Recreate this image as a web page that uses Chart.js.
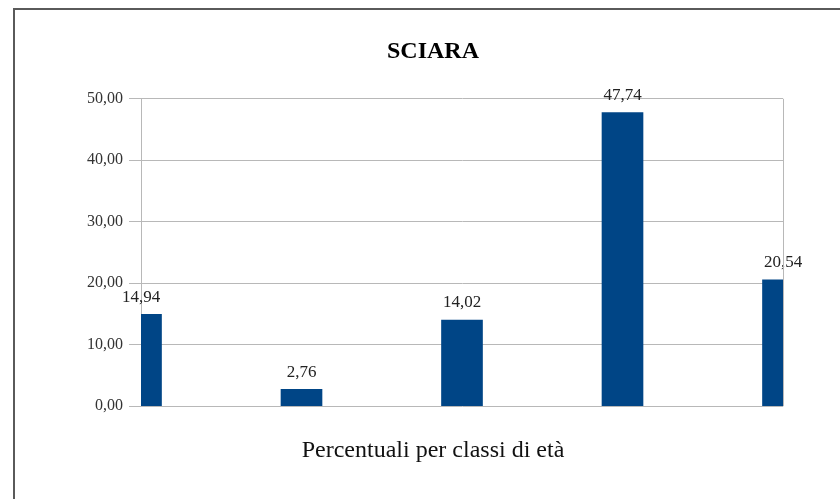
<!DOCTYPE html>
<html>
<head>
<meta charset="utf-8">
<script src="https://cdn.jsdelivr.net/npm/chart.js@4/dist/chart.umd.min.js"></script>
<style>
  html, body { margin: 0; padding: 0; background: #ffffff; }
  #wrap { width: 840px; height: 499px; }
</style>
</head>
<body>
<div id="wrap"><canvas id="sciara"></canvas></div>
<script>
// Percentuali per classi di età - SCIARA
const classi = ['Classe 1', 'Classe 2', 'Classe 3', 'Classe 4', 'Classe 5'];
const percentuali = [14.94, 2.76, 14.02, 47.74, 20.54];
const yTicks = [0, 10, 20, 30, 40, 50];

const SERIF = '"Liberation Serif", "DejaVu Serif", serif';

function virgola(v) {
    return v.toFixed(2).replace('.', ',');
}

// outer frame (left and top edges) + right border of the plot
const frame = {
    id: 'frame',
    beforeDraw(chart) {
        const ctx = chart.ctx;
        ctx.save();
        ctx.fillStyle = '#ffffff';
        ctx.fillRect(0, 0, chart.width, chart.height);
        ctx.strokeStyle = '#5a5a5a';
        ctx.lineWidth = 2;
        ctx.beginPath();
        ctx.moveTo(14, chart.height);
        ctx.lineTo(14, 9);
        ctx.lineTo(chart.width, 9);
        ctx.stroke();
        ctx.restore();
    },
    afterDraw(chart) {
        const a = chart.chartArea;
        const ctx = chart.ctx;
        ctx.save();
        ctx.strokeStyle = '#b8b8b8';
        ctx.lineWidth = 1;
        ctx.beginPath();
        ctx.moveTo(Math.round(a.right) + 0.5, a.top);
        ctx.lineTo(Math.round(a.right) + 0.5, a.bottom);
        ctx.stroke();
        ctx.restore();
    }
};

// value labels above each bar
const valori = {
    id: 'valori',
    afterDatasetsDraw(chart) {
        const ctx = chart.ctx;
        const meta = chart.getDatasetMeta(0);
        ctx.save();
        ctx.font = '17px ' + SERIF;
        ctx.fillStyle = '#222222';
        ctx.textAlign = 'center';
        ctx.textBaseline = 'middle';
        meta.data.forEach((bar, i) => {
            ctx.fillText(virgola(percentuali[i]), bar.x, bar.y - 17);
        });
        ctx.restore();
    }
};

const data = {
    labels: classi,
    datasets: [{
        label: 'SCIARA',
        data: percentuali,
        backgroundColor: '#004586',
        barThickness: 41
    }]
};

const config = {
    type: 'bar',
    data: data,
    options: {
        responsive: true,
        maintainAspectRatio: false,
        animation: false,
        layout: {
            padding: { left: 83, right: 57, top: 0, bottom: 0 }
        },
        scales: {
            x: {
                display: false,
                offset: false
            },
            y: {
                min: 0,
                max: 50,
                afterFit(scale) { scale.width = 58; },
                afterBuildTicks(scale) {
                    scale.ticks = yTicks.map(v => ({ value: v }));
                },
                ticks: {
                    padding: 6,
                    color: '#333333',
                    font: { family: SERIF, size: 16 },
                    callback: v => virgola(v)
                },
                grid: {
                    color: '#b8b8b8',
                    tickLength: 12,
                    drawTicks: true
                },
                border: { color: '#b8b8b8' }
            }
        },
        plugins: {
            legend: { display: false },
            tooltip: { enabled: false },
            title: {
                display: true,
                text: 'SCIARA',
                color: '#000000',
                font: { family: SERIF, size: 24, weight: 'bold' },
                padding: { top: 37, bottom: 33 }
            },
            subtitle: {
                display: true,
                position: 'bottom',
                text: 'Percentuali per classi di età',
                color: '#111111',
                font: { family: SERIF, size: 24 },
                padding: { top: 30, bottom: 34 }
            }
        }
    },
    plugins: [frame, valori]
};

const graficoSciara = new Chart(document.getElementById('sciara'), config);
</script>
</body>
</html>
